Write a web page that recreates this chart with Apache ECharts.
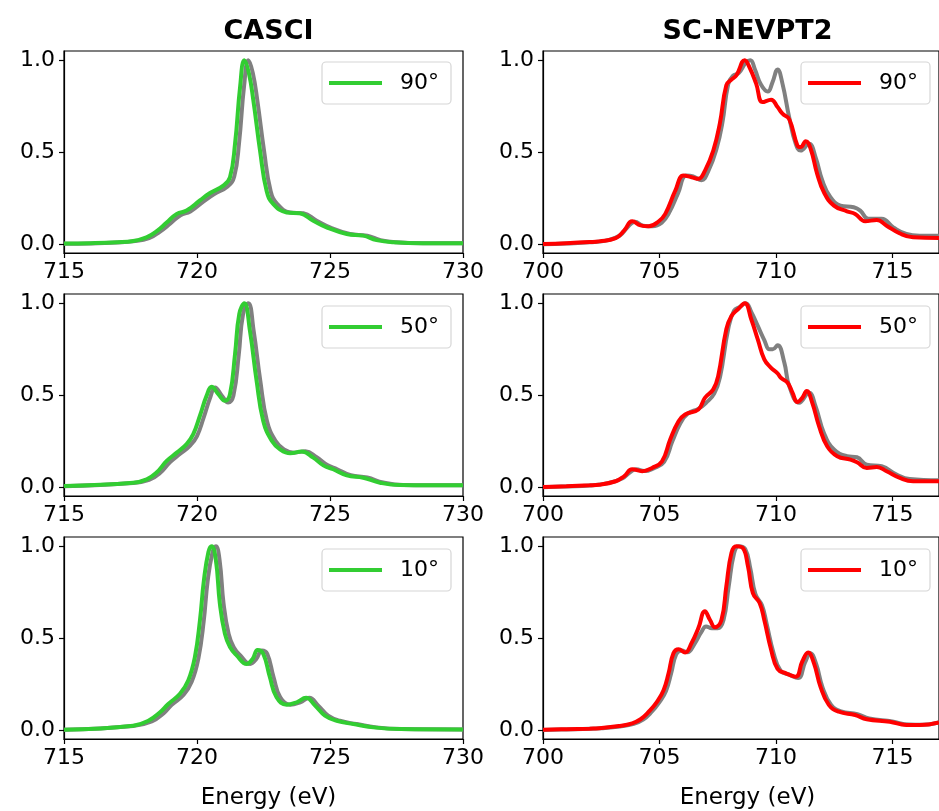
<!DOCTYPE html>
<html>
<head>
<meta charset="utf-8">
<script src="https://cdn.jsdelivr.net/npm/echarts@6/dist/echarts.min.js"></script>
<style>
  html, body { margin: 0; padding: 0; background: #fff; }
  #main { width: 939px; height: 811px; }
</style>
</head>
<body>
<div id="main"></div>
<script>
// column titles, row labels (angle), tick labels
var colTitles = ['CASCI', 'SC-NEVPT2'];
var angles = ['90°', '50°', '10°'];
var casciTicks = [715, 720, 725, 730];
var nevptTicks = [700, 705, 710, 715];
var yTicks = [0, 0.5, 1.0];

// CASCI, [energy eV, intensity]
var casci90 = [[715,0.006],[716,0.008],[717,0.013],[717.6,0.02],[718.1,0.04],[718.5,0.075],[718.86,0.12],[719.24,0.167],[719.61,0.185],[720.11,0.24],[720.49,0.28],[720.99,0.32],[721.24,0.366],[721.43,0.547],[721.62,0.855],[721.78,1.0],[721.95,0.93],[722.12,0.78],[722.37,0.51],[722.62,0.29],[722.87,0.22],[723.37,0.175],[723.87,0.17],[724.37,0.13],[724.87,0.094],[725.63,0.058],[726.25,0.049],[726.75,0.025],[727.38,0.013],[728.5,0.008],[730,0.008]];
var casci90Ref = [[715,0.005],[716,0.007],[717,0.012],[717.6,0.018],[718.2,0.035],[718.6,0.07],[719.0,0.115],[719.38,0.16],[719.75,0.18],[720.25,0.235],[720.65,0.275],[721.15,0.315],[721.4,0.37],[721.58,0.55],[721.77,0.86],[721.93,1.0],[722.1,0.93],[722.27,0.78],[722.52,0.51],[722.77,0.29],[723.02,0.22],[723.5,0.175],[724.0,0.17],[724.5,0.13],[725.0,0.094],[725.75,0.058],[726.4,0.049],[726.9,0.025],[727.5,0.013],[728.5,0.008],[730,0.008]];

var casci50 = [[715,0.009],[717.6,0.027],[718.11,0.045],[718.48,0.082],[718.86,0.145],[719.24,0.19],[719.61,0.236],[719.86,0.29],[720.11,0.39],[720.36,0.498],[720.55,0.547],[720.8,0.507],[721.05,0.471],[721.24,0.507],[721.43,0.725],[721.59,0.942],[721.78,1.0],[721.99,0.851],[722.24,0.58],[722.49,0.362],[722.81,0.254],[723.12,0.208],[723.5,0.187],[723.94,0.196],[724.37,0.163],[724.75,0.121],[725.12,0.1],[725.63,0.067],[726.25,0.054],[726.88,0.027],[727.63,0.014],[730,0.013]];
var casci50Ref = [[715,0.008],[717.6,0.025],[718.2,0.042],[718.6,0.078],[719.0,0.14],[719.38,0.185],[719.75,0.23],[720.0,0.28],[720.25,0.38],[720.5,0.49],[720.68,0.543],[720.93,0.5],[721.17,0.462],[721.37,0.5],[721.57,0.72],[721.73,0.94],[721.93,1.0],[722.13,0.85],[722.38,0.58],[722.63,0.362],[722.95,0.254],[723.27,0.208],[723.65,0.19],[724.08,0.198],[724.5,0.165],[724.9,0.123],[725.27,0.1],[725.78,0.068],[726.4,0.055],[727.0,0.028],[727.75,0.014],[730,0.013]];

var casci10 = [[715,0.005],[717.6,0.027],[718.17,0.054],[718.61,0.1],[718.92,0.145],[719.36,0.2],[719.67,0.272],[719.92,0.399],[720.11,0.598],[720.26,0.815],[720.43,0.969],[720.55,1.0],[720.71,0.924],[720.86,0.688],[721.05,0.525],[721.24,0.453],[721.49,0.408],[721.87,0.362],[722.09,0.389],[722.28,0.438],[722.49,0.417],[722.74,0.29],[722.99,0.181],[723.37,0.141],[723.75,0.154],[724.1,0.178],[724.44,0.136],[724.81,0.082],[725.25,0.054],[725.88,0.036],[726.63,0.018],[727.63,0.009],[730,0.007]];
var casci10Ref = [[715,0.005],[717.6,0.025],[718.3,0.05],[718.75,0.095],[719.05,0.14],[719.5,0.195],[719.8,0.265],[720.05,0.39],[720.25,0.59],[720.4,0.81],[720.58,0.965],[720.71,1.0],[720.85,0.924],[721.0,0.688],[721.19,0.525],[721.38,0.453],[721.63,0.408],[722.0,0.362],[722.23,0.389],[722.44,0.435],[722.64,0.417],[722.88,0.29],[723.13,0.181],[723.5,0.141],[723.88,0.154],[724.22,0.178],[724.56,0.136],[724.93,0.082],[725.37,0.054],[726.0,0.036],[726.75,0.018],[727.7,0.009],[730,0.007]];

// SC-NEVPT2
var nevpt90 = [[700,0.004],[701,0.008],[702,0.014],[702.41,0.018],[703.12,0.036],[703.48,0.076],[703.83,0.127],[704.19,0.105],[704.54,0.1],[704.97,0.127],[705.25,0.167],[705.68,0.293],[706.03,0.375],[706.38,0.366],[706.67,0.357],[706.95,0.4],[707.31,0.51],[707.59,0.656],[707.87,0.864],[708.09,0.895],[708.3,0.918],[708.66,1.0],[708.87,0.96],[709.15,0.873],[709.43,0.773],[709.79,0.786],[710.07,0.746],[710.28,0.71],[710.57,0.68],[710.92,0.538],[711.06,0.529],[711.28,0.561],[711.49,0.52],[711.77,0.384],[712.06,0.284],[712.49,0.212],[713.05,0.181],[713.4,0.167],[713.83,0.127],[714.33,0.134],[714.75,0.103],[715.32,0.061],[715.89,0.04],[717,0.036]];
var nevpt90Ref = [[700,0.003],[701,0.007],[702,0.013],[702.8,0.025],[703.3,0.05],[703.6,0.09],[703.95,0.125],[704.3,0.103],[704.7,0.1],[705.1,0.12],[705.4,0.17],[705.8,0.28],[706.15,0.375],[706.45,0.37],[706.8,0.35],[707.1,0.4],[707.45,0.52],[707.7,0.66],[707.95,0.87],[708.15,0.915],[708.4,0.93],[708.7,0.985],[708.9,1.0],[709.1,0.95],[709.35,0.87],[709.65,0.83],[709.85,0.88],[710.07,0.95],[710.28,0.873],[710.57,0.69],[710.85,0.547],[711.06,0.51],[711.42,0.547],[711.7,0.475],[711.99,0.348],[712.34,0.257],[712.77,0.212],[713.34,0.203],[713.62,0.185],[713.97,0.14],[714.54,0.14],[715.04,0.094],[715.6,0.058],[716.17,0.049],[717,0.049]];

var nevpt50 = [[700,0.004],[701,0.008],[702,0.013],[702.41,0.016],[703.12,0.035],[703.48,0.062],[703.83,0.1],[704.26,0.089],[704.68,0.107],[705.11,0.143],[705.46,0.261],[705.82,0.36],[706.1,0.397],[706.67,0.424],[706.95,0.487],[707.31,0.533],[707.52,0.605],[707.87,0.859],[708.09,0.931],[708.37,0.967],[708.66,1.0],[708.94,0.913],[709.22,0.804],[709.5,0.696],[709.79,0.65],[710.07,0.62],[710.21,0.596],[710.5,0.569],[710.71,0.515],[710.92,0.464],[711.13,0.487],[711.32,0.524],[711.56,0.46],[711.85,0.334],[712.2,0.225],[712.63,0.171],[713.2,0.152],[713.48,0.138],[713.9,0.107],[714.33,0.112],[714.75,0.089],[715.32,0.053],[715.89,0.035],[717,0.035]];
var nevpt50Ref = [[700,0.003],[701,0.007],[702,0.012],[702.8,0.025],[703.4,0.05],[703.75,0.085],[704.0,0.1],[704.35,0.09],[704.75,0.105],[705.2,0.14],[705.55,0.25],[705.9,0.35],[706.2,0.4],[706.7,0.43],[707.0,0.46],[707.35,0.51],[707.6,0.6],[707.95,0.86],[708.2,0.96],[708.45,0.98],[708.7,1.0],[708.95,0.95],[709.22,0.877],[709.5,0.8],[709.72,0.75],[709.86,0.75],[710.07,0.772],[710.36,0.678],[710.57,0.551],[711.0,0.46],[711.42,0.515],[711.7,0.442],[712.06,0.297],[712.49,0.207],[713.05,0.171],[713.48,0.165],[713.9,0.125],[714.54,0.116],[715.18,0.071],[715.74,0.047],[717,0.04]];

var nevpt10 = [[700,0.005],[701,0.008],[702,0.011],[702.41,0.013],[703.26,0.025],[703.83,0.04],[704.19,0.062],[704.54,0.103],[704.9,0.158],[705.18,0.221],[705.39,0.311],[705.6,0.42],[705.82,0.442],[706.1,0.424],[706.38,0.475],[706.67,0.556],[706.95,0.647],[707.17,0.6],[707.38,0.561],[707.66,0.6],[707.87,0.783],[708.09,0.964],[708.3,1.0],[708.58,0.99],[708.8,0.891],[709.01,0.746],[709.3,0.692],[709.5,0.6],[709.79,0.44],[710.07,0.335],[710.43,0.311],[710.85,0.293],[711.13,0.375],[711.38,0.424],[711.63,0.366],[711.91,0.239],[712.27,0.14],[712.7,0.103],[713.4,0.085],[713.9,0.062],[714.89,0.049],[715.6,0.031],[716.17,0.031],[717,0.045]];
var nevpt10Ref = [[700,0.004],[701,0.007],[702,0.01],[702.5,0.013],[703.3,0.023],[703.9,0.037],[704.3,0.06],[704.65,0.1],[705.0,0.155],[705.28,0.215],[705.5,0.31],[705.72,0.415],[705.95,0.435],[706.2,0.425],[706.5,0.47],[706.8,0.535],[707.0,0.565],[707.25,0.555],[707.5,0.555],[707.75,0.6],[707.97,0.78],[708.2,0.96],[708.4,1.0],[708.68,0.985],[708.9,0.88],[709.12,0.74],[709.4,0.68],[709.6,0.58],[709.9,0.42],[710.2,0.325],[710.55,0.305],[710.95,0.285],[711.25,0.37],[711.48,0.42],[711.73,0.36],[712.0,0.235],[712.37,0.14],[712.8,0.105],[713.5,0.09],[714.0,0.067],[715.0,0.05],[715.7,0.033],[716.3,0.032],[717,0.045]];

var FONT = 'DejaVu Sans';
var GREEN = '#32cd32', RED = '#ff0000', GRAY = '#808080';

// one entry per panel: [row, col, calc, ref]
var panels = [
  [0, 0, casci90, casci90Ref], [1, 0, casci50, casci50Ref], [2, 0, casci10, casci10Ref],
  [0, 1, nevpt90, nevpt90Ref], [1, 1, nevpt50, nevpt50Ref], [2, 1, nevpt10, nevpt10Ref]
];

var gridLeft = [64, 543];
var gridTop = [51, 294, 537];
var gridW = 399, gridH = 202;
var legendTop = [62, 306, 549];

var grids = [], xAxes = [], yAxes = [], series = [], legends = [];
var titles = [];

panels.forEach(function (p, i) {
  var row = p[0], col = p[1];
  var color = col === 0 ? GREEN : RED;
  var name = (col === 0 ? 'CASCI ' : 'NEVPT2 ') + angles[row];
  grids.push({
    left: gridLeft[col], top: gridTop[row], width: gridW, height: gridH,
    show: true, borderColor: '#000', borderWidth: 1.2, backgroundColor: 'transparent'
  });
  var ticks = col === 0 ? casciTicks : nevptTicks;
  xAxes.push({
    gridIndex: i, type: 'value',
    min: col === 0 ? 715 : 700, max: col === 0 ? 730 : 717,
    splitLine: { show: false },
    axisLine: { show: true, onZero: false, lineStyle: { color: '#000', width: 1.2 } },
    axisTick: { show: true, length: 5, lineStyle: { color: '#000', width: 1.2 }, customValues: ticks },
    axisLabel: { color: '#000', fontFamily: FONT, fontSize: 22, margin: 8, customValues: ticks }
  });
  yAxes.push({
    gridIndex: i, type: 'value', min: -0.045, max: 1.05,
    splitLine: { show: false },
    axisLine: { show: true, lineStyle: { color: '#000', width: 1.2 } },
    axisTick: { show: true, length: 5, lineStyle: { color: '#000', width: 1.2 }, customValues: yTicks },
    axisLabel: { color: '#000', fontFamily: FONT, fontSize: 22, margin: 9, customValues: yTicks,
      formatter: function (v) { return v.toFixed(1); } }
  });
  series.push({
    type: 'line', name: name + ' ref', xAxisIndex: i, yAxisIndex: i, data: p[3],
    symbol: 'none', smooth: 0.45,
    lineStyle: { color: GRAY, width: 4 }, itemStyle: { color: GRAY }
  });
  series.push({
    type: 'line', name: name, xAxisIndex: i, yAxisIndex: i, data: p[2],
    symbol: 'none', smooth: 0.45,
    lineStyle: { color: color, width: 4 }, itemStyle: { color: color }
  });
  legends.push({
    show: true,
    data: [name], left: col === 0 ? 322 : 801, top: legendTop[row],
    icon: 'rect', itemWidth: 53, itemHeight: 4,
    backgroundColor: 'rgba(255,255,255,0.8)', borderColor: '#d6d6d6', borderWidth: 1.2, borderRadius: 4,
    padding: [10, 12, 10, 7],
    selectedMode: false,
    formatter: function () { return angles[row]; },
    textStyle: { fontFamily: FONT, fontSize: 22, color: '#000', padding: [0, 0, 0, 13] }
  });
});

colTitles.forEach(function (t, c) {
  titles.push({
    text: t, left: gridLeft[c] + gridW / 2, top: 13, textAlign: 'center',
    textStyle: { fontFamily: FONT, fontSize: 27, fontWeight: 'bold', color: '#000' }
  });
  titles.push({
    text: 'Energy (eV)', left: gridLeft[c] + gridW / 2, top: 782, textAlign: 'center',
    textStyle: { fontFamily: FONT, fontSize: 23, fontWeight: 'normal', color: '#000' }
  });
});

var chart = echarts.init(document.getElementById('main'), null, { renderer: 'canvas' });
chart.setOption({
  animation: false,
  backgroundColor: '#fff',
  title: titles,
  grid: grids,
  xAxis: xAxes,
  yAxis: yAxes,
  legend: legends,
  series: series
});
</script>
</body>
</html>
